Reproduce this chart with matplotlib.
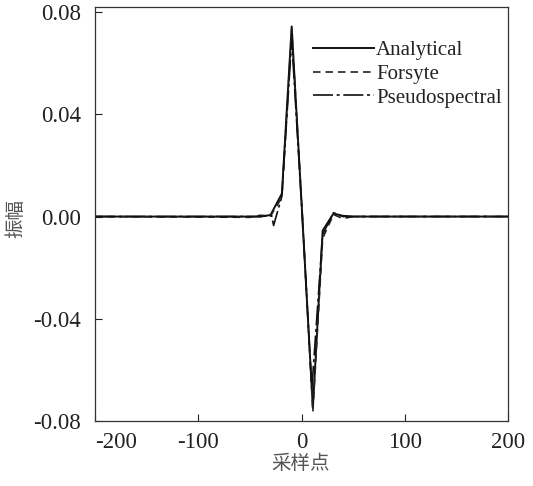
import numpy as np
import matplotlib
matplotlib.use("Agg")
import matplotlib.pyplot as plt

# datos
x_ana = [-200, -50, -40, -30, -19, -9.5, 0.5, 11, 20.5, 31, 40, 50, 200]
y_ana = [0, 0, 0, 0.0006, 0.009, 0.0745, 0.002, -0.075, -0.0055, 0.0012, 0.0003, 0, 0]

x_for = [-200, -50, -40, -30, -19, -9.5, 0.5, 11, 20.5, 31, 40, 50, 200]
y_for = [0, -0.0003, 0.0005, 0.0002, 0.0075, 0.0735, 0.003, -0.0765, -0.0085, 0.0008, -0.0008, 0, 0]

x_pse = [-200, -40, -29, -27, -19, -9.5, 0.5, 10, 20.5, 31, 40, 200]
y_pse = [0, 0, 0.0005, -0.0035, 0.008, 0.0695, 0.002, -0.0675, -0.007, 0.0015, 0, 0]

xticks  = [-200, -100, 0, 100, 200]
xlabels = ["-200", "-100", "0", "100", "200"]
yticks  = [-0.08, -0.04, 0.00, 0.04, 0.08]
ylabels = ["-0.08", "-0.04", "0.00", "0.04", "0.08"]

plt.rcParams['font.family'] = ['Liberation Serif', 'DejaVu Serif']
plt.rcParams['axes.unicode_minus'] = False

fig = plt.figure(figsize=(5.33, 4.86), dpi=100)
ax = fig.add_axes([95/533, 1 - 420.7/486, 413/533, 413.4/486])

ax.plot(x_ana, y_ana, '-', color='#111111', lw=1.4, label='Analytical')
ax.plot(x_for, y_for, '--', color='#222222', lw=1.2, dashes=(4.5, 3), label='Forsyte')
ax.plot(x_pse, y_pse, '-.', color='#111111', lw=1.2, dashes=(12, 2.2, 1.8, 2.2), label='Pseudospectral')

ax.set_xlim(-200, 200)
ax.set_ylim(-0.08, 0.082)
ax.set_xticks(xticks)
ax.set_xticklabels(xlabels)
ax.set_yticks(yticks)
ax.set_yticklabels(ylabels)
ax.tick_params(direction='in', length=5, width=0.8, labelsize=16.5, colors='#222222')
ax.tick_params(axis='x', pad=8)
ax.tick_params(axis='y', pad=10)
for s in ax.spines.values():
    s.set_linewidth(0.9)
    s.set_color('#333333')

# la etiqueta -200 va corrida a la derecha
labs = ax.get_xticklabels()
labs[0].set_horizontalalignment('left')

leg = ax.legend(loc='upper left', bbox_to_anchor=(312.7/533, 1 - 40.5/486),
                bbox_transform=fig.transFigure, frameon=False, fontsize=15,
                handlelength=2.95, handletextpad=0.1, labelspacing=0.2,
                borderpad=0, borderaxespad=0)
for t in leg.get_texts():
    t.set_color('#222222')

cjk = ['Noto Sans CJK SC', 'DejaVu Sans']
fig.text(301/533, 1 - 463/486, '采样点', family=cjk, fontsize=14, color='#555555',
         ha='center', va='center')
fig.text(16/533, 1 - 218/486, '振幅', family=cjk, fontsize=14, color='#555555',
         ha='center', va='center', rotation=90)

fig.savefig('out.png', dpi=100)
